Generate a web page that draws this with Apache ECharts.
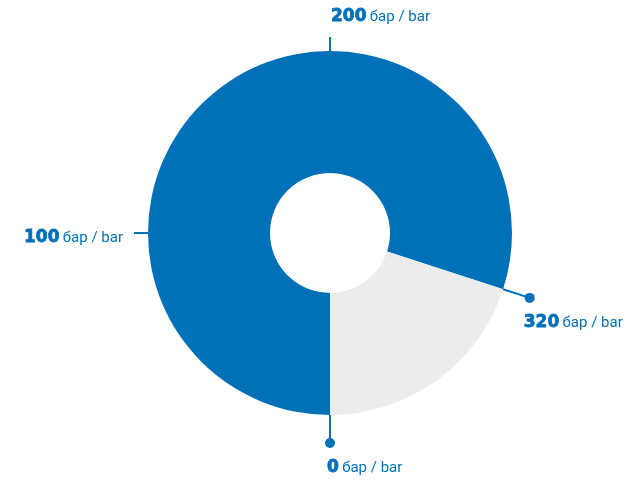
<!DOCTYPE html>
<html>
<head>
<meta charset="utf-8">
<script src="https://cdn.jsdelivr.net/npm/echarts@6/dist/echarts.min.js"></script>
<style>html,body{margin:0;padding:0;background:#fff}#c{width:630px;height:480px}</style>
</head>
<body>
<div id="c"></div>
<script>
// ---- data ----
var scaleMax = 400;            // full circle
var pressureValue = [320];     // filled (blue) part
var remainderValue = [80];     // empty (grey) part
var tickValues = [0, 100, 200, 320];
var unitText = 'бар / bar';

var BLUE = '#0070b8';
var GREY = '#ebeceb';
var endpointSet = [0, pressureValue[0]];

var chart = echarts.init(document.getElementById('c'));

function renderTick(params, api) {
  var v = api.value(1);
  var cs = params.coordSys;
  var cx = cs.cx, cy = cs.cy, R = cs.r;
  var p = api.coord([0, v]);
  var dx = p[0] - cx, dy = p[1] - cy;
  var len = Math.sqrt(dx * dx + dy * dy);
  var ux = dx / len, uy = dy / len;
  var isEnd = endpointSet.indexOf(v) >= 0;
  var tickLen = isEnd ? 28 : 14;
  var sx = cx + ux * R, sy = cy + uy * R;
  var ex = cx + ux * (R + tickLen), ey = cy + uy * (R + tickLen);
  var children = [{
    type: 'line',
    shape: { x1: sx, y1: sy, x2: ex, y2: ey },
    style: { stroke: BLUE, lineWidth: 2 }
  }];
  if (isEnd) {
    children.push({ type: 'circle', shape: { cx: ex, cy: ey, r: 5 }, style: { fill: BLUE } });
  }
  var tx, ty, align;
  if (ux < -0.5) { // left side
    align = 'right'; tx = ex - 11; ty = ey + 5;
  } else if (isEnd) { // below the dot
    align = 'left'; tx = ex - (ux > 0.5 ? 6 : 3); ty = ey + 25;
  } else { // above
    align = 'left'; tx = ex + 1; ty = ey - 20;
  }
  children.push({
    type: 'text',
    x: tx, y: ty,
    style: {
      text: '{n|' + v + '} {u|' + unitText + '}',
      align: align,
      verticalAlign: 'middle',
      rich: {
        n: { fontSize: 17, fontWeight: 'bold', fontFamily: 'DejaVu Sans', fill: BLUE,
             stroke: BLUE, lineWidth: 0.8 },
        u: { fontSize: 15, fontFamily: 'Roboto', fill: BLUE }
      }
    }
  });
  return { type: 'group', children: children };
}

chart.setOption({
  animation: false,
  backgroundColor: '#ffffff',
  polar: { center: [330, 233], radius: [60, 182] },
  angleAxis: {
    type: 'value', min: 0, max: scaleMax, startAngle: 270, clockwise: true,
    show: false
  },
  radiusAxis: { type: 'category', data: ['p'], show: false },
  series: [
    {
      type: 'bar', coordinateSystem: 'polar', stack: 'g',
      data: pressureValue, barCategoryGap: '0%', barWidth: '100%',
      itemStyle: { color: BLUE }, silent: true
    },
    {
      type: 'bar', coordinateSystem: 'polar', stack: 'g',
      data: remainderValue, barCategoryGap: '0%', barWidth: '100%',
      itemStyle: { color: GREY }, silent: true
    },
    {
      type: 'custom', coordinateSystem: 'polar',
      data: tickValues.map(function (t) { return [0, t]; }),
      renderItem: renderTick, silent: true, z: 5
    }
  ]
});
</script>
</body>
</html>
